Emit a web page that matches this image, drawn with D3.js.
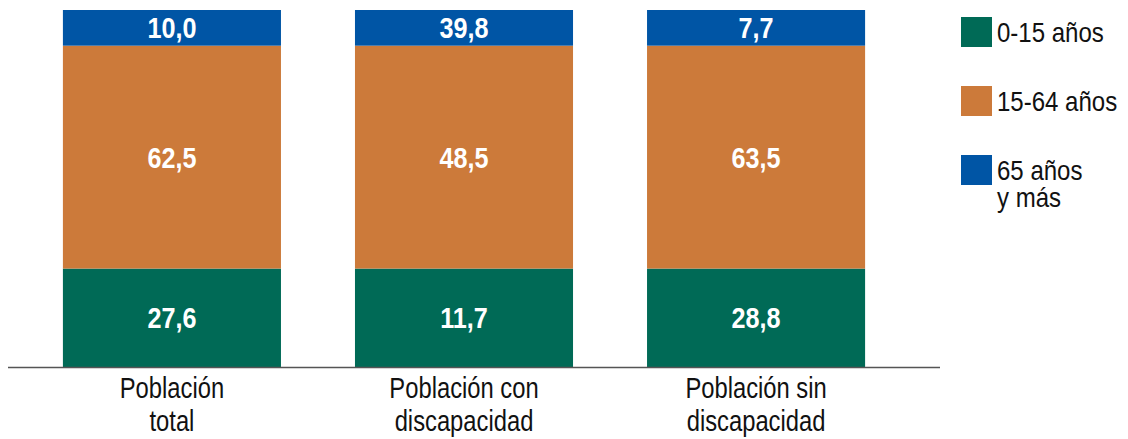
<!DOCTYPE html>
<html>
<head>
<meta charset="utf-8">
<script src="https://cdn.jsdelivr.net/npm/d3@7"></script>
<style>
  body { margin: 0; background: #fff; }
  svg { display: block; font-family: "Liberation Sans", Arial, sans-serif; }
</style>
</head>
<body>
<svg></svg>
<script>
// data
const categories = [["Población", "total"], ["Población con", "discapacidad"], ["Población sin", "discapacidad"]]
const seriesNames = [["0-15 años"], ["15-64 años"], ["65 años", "y más"]]
const young = [27.6, 11.7, 28.8]
const adults = [62.5, 48.5, 63.5]
const old = [10.0, 39.8, 7.7]
const colors = ["#006a56", "#cc7a3a", "#0055a5"]

const svg = d3.select("svg")
    .attr("width", 1128)
    .attr("height", 439)

// the original draws every bar with the segment sizes of "Población total",
// only the printed numbers change
const layoutRow = { a: young[0], b: adults[0], c: old[0] }
const layout = d3.stack().keys(["a", "b", "c"])([layoutRow])
const values = [young, adults, old]

const scaleX = d3.scaleBand()
    .domain(d3.range(categories.length))
    .range([8, 920])
    .paddingInner(0.2534)
    .paddingOuter(0.188)

const scaleY = d3.scaleLinear()
    .domain([0, d3.sum(Object.values(layoutRow))])
    .range([367, 10])

const fmt = v => d3.format(".1f")(v).replace(".", ",")

const layers = svg.selectAll("g.layer")
    .data(layout)
    .enter()
    .append("g")
    .attr("class", "layer")
    .attr("fill", (d, i) => colors[i])

layers.selectAll("rect")
    .data((d, i) => categories.map((c, j) => ({ seg: d[0], v: values[i][j], j: j })))
    .enter()
    .append("rect")
    .attr("x", d => scaleX(d.j))
    .attr("width", scaleX.bandwidth())
    .attr("y", d => scaleY(d.seg[1]))
    .attr("height", d => scaleY(d.seg[0]) - scaleY(d.seg[1]))

layers.selectAll("text")
    .data((d, i) => categories.map((c, j) => ({ seg: d[0], v: values[i][j], j: j })))
    .enter()
    .append("text")
    .attr("transform", d => {
        const x = scaleX(d.j) + scaleX.bandwidth() / 2
        const y = (scaleY(d.seg[0]) + scaleY(d.seg[1])) / 2
        return `translate(${x},${y + 10.5}) scale(0.84,1)`
    })
    .attr("text-anchor", "middle")
    .attr("fill", "#fff")
    .attr("font-weight", "bold")
    .attr("font-size", 30)
    .text(d => fmt(d.v))

// baseline
svg.append("line")
    .attr("x1", 8)
    .attr("x2", 940)
    .attr("y1", scaleY(0) + 0.5)
    .attr("y2", scaleY(0) + 0.5)
    .attr("stroke", "#555")
    .attr("stroke-width", 1.6)

// category labels
const catLabels = svg.selectAll("text.cat")
    .data(categories)
    .enter()
    .append("text")
    .attr("class", "cat")
    .attr("text-anchor", "middle")
    .attr("font-size", 29)
    .attr("fill", "#111")
    .attr("transform", (d, i) => `translate(${scaleX(i) + scaleX.bandwidth() / 2},398) scale(0.82,1)`)

catLabels.selectAll("tspan")
    .data(d => d)
    .enter()
    .append("tspan")
    .attr("x", 0)
    .attr("y", (d, i) => i * 33)
    .text(d => d)

// legend
const legend = svg.selectAll("g.legend")
    .data(seriesNames)
    .enter()
    .append("g")
    .attr("class", "legend")
    .attr("transform", (d, i) => `translate(961,${17 + i * 69})`)

legend.append("rect")
    .attr("width", 31)
    .attr("height", 30)
    .attr("fill", (d, i) => colors[i])

legend.append("text")
    .attr("font-size", 27)
    .attr("fill", "#111")
    .attr("transform", "translate(36,0) scale(0.89,1)")
    .selectAll("tspan")
    .data(d => d)
    .enter()
    .append("tspan")
    .attr("x", 0)
    .attr("y", (d, i) => 25 + i * 27)
    .text(d => d)
</script>
</body>
</html>
